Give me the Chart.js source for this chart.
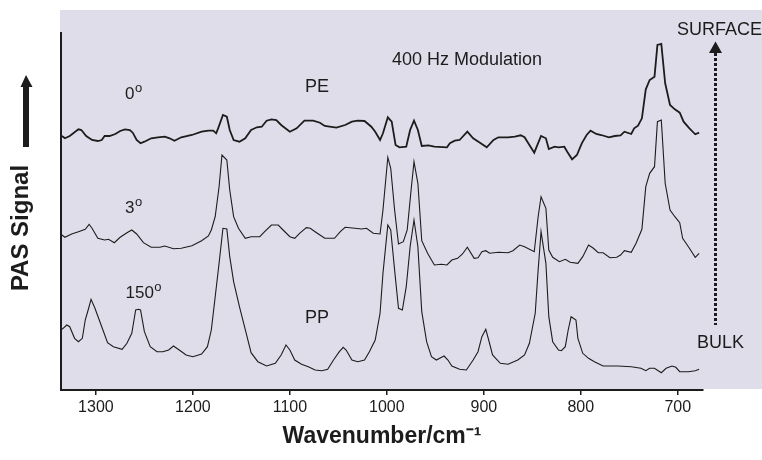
<!DOCTYPE html>
<html>
<head>
<meta charset="utf-8">
<script src="https://cdn.jsdelivr.net/npm/chart.js@4.4.1/dist/chart.umd.min.js"></script>
<style>
  html, body { margin: 0; padding: 0; background: #fff; }
  canvas { display: block; }
</style>
</head>
<body>
<canvas id="chart" width="762" height="460"></canvas>
<script>
// wavenumbers (cm-1) and relative PAS signal
const peWavenumber = [1335,1332,1327,1318,1315,1310,1304,1298,1294,1291,1286,1280,1275,1270,1265,1262,1258,1254,1250,1243,1236,1229,1224,1219,1212,1201,1191,1184,1179,1176,
  1174,1169,1165,1162,1158,1152,1146,1140,1134,1129,1124,1119,1114,1109,1100,1093,1085,1076,1069,1064,1059,1052,1043,1036,1030,1023,1016,1012,1007,
  1004,999,995,991,987,980,976,972,968,964,957,951,938,935,930,925,917,911,904,897,890,885,875,868,862,858,853,848,
  841,836,833,827,823,817,814,809,804,799,794,790,784,779,771,765,759,755,748,745,741,737,733,729,724,721,717,713,708,703,698,694,688,682,678]
const peSignal = [254,251.7,254,260.7,260,254,250,249,250,254,254,256,259,260.7,260,257.3,250,246.7,248.3,251.7,252.7,253.3,251.7,249.3,252.7,255,258.3,259.3,259.3,256.7,
  261.7,275,273.3,260,250,248.3,251.7,260,262.7,263.3,269.3,270.7,270,265,258.3,261.7,269.3,269.3,267.3,264,263.3,262.3,265,268.3,269.3,269,263.3,258.3,250,
  256.7,272.7,268.3,245,242.7,243.3,260,269.3,260,244,244.7,243.3,242.7,246.7,249.3,250,258.3,251.7,247.3,242.7,250,252.7,252.7,253.3,254.7,252.7,245,237.3,
  254,251.7,241,243.3,242.7,243.3,238.3,230.7,235,246.7,255,259.3,256,255,252.7,254,254.7,258.3,256,261.7,264.3,271.7,300.7,310,313.3,345,346,306.7,285,280.7,277.3,268.3,261.7,255.7,257.3]

const s3Wavenumber = [1335,1332,1325,1318,1311,1307,1304,1298,1291,1287,1281,1275,1268,1263,1258,1251,1243,1234,1229,1220,1212,1201,1191,1184,1181,1177,1173,1170,1165,1162,1158,1153,1146,1140,1131,1126,1119,1112,1107,1100,1095,1090,1083,1079,1074,1069,1064,1054,1048,1043,1033,1026,1021,1014,1007,
  1004,999,996,992,988,983,979,975,972,968,964,958,951,944,938,933,927,922,917,910,906,902,898,894,885,875,870,863,858,848,844,841,836,833,829,822,816,811,803,798,792,787,782,777,770,763,759,755,748,743,737,733,729,724,721,717,713,708,703,698,695,688,682,678]
const s3Signal = [155,152.7,156,158.3,160.7,165.7,161.7,151.7,150,150.7,147.3,152.7,157.3,160,156,147.3,142.7,142.7,144,141.3,141.7,144.3,149.3,154,160,173.3,203.3,235,230,200,173.3,161.7,151.7,153.3,153.3,158.3,165,165,160,153.3,151.7,156.7,162.3,161.7,158.3,155,151.7,151.7,158.3,162.7,161.7,161,161.7,156.7,156,
  180,232.7,221.7,180,146,148.3,160,200,228.3,206.7,149.3,136.7,125,125.7,125,130,131.7,136,142.7,131.7,132.3,138.3,139.3,136.7,137.7,137.3,139.3,145,143.3,138.3,173.3,193.3,181.7,140,132.7,128.3,130.7,127.7,126.7,133.3,145,141.7,137.3,137.3,132.3,132.7,135,139.3,137.7,146.7,160.7,203.3,216.7,223.3,268.3,270,206.7,180,173.3,167.3,151.7,141.7,132.7,136.7]

const s150Wavenumber = [1335,1330,1327,1322,1318,1314,1311,1308,1305,1301,1294,1288,1282,1273,1268,1263,1259,1256,1254,1250,1244,1237,1231,1225,1220,1213,1207,1200,1191,1185,1181,1177,1173,1169,1165,1162,1158,1152,1145,1140,1133,1124,1115,1109,1104,1100,1095,1088,1081,1074,1067,1061,1055,1049,1045,1042,1036,1030,1023,1018,1012,1007,
  1004,999,996,992,988,984,980,976,972,968,964,959,954,949,941,937,933,925,918,911,906,902,898,895,891,883,875,865,858,853,847,844,841,836,833,829,823,820,816,813,810,805,803,798,792,786,777,762,748,738,733,729,724,717,712,706,702,698,689,682,678]
const s150Signal = [60.7,65,63.3,51.7,48.3,51.7,70,80,90.7,81.7,63.3,47.3,43.3,40.7,46.7,56.7,80,80.7,80,58.3,43.3,38.3,38.3,40,44,39.3,35,33.3,36,43.3,60,93.3,126.7,161.7,161,133.3,108.3,83.3,56.7,37.3,28.3,24,26.7,35,45,40,30,25.7,23.3,20,19.3,20.7,30,38.3,42.7,40,30,28.3,30,38.3,50,76.7,
  116.7,165,160,120,81.7,80,103.3,143.3,170,143.3,78.3,48.3,33.3,30,34,30,24,20.7,20,30,38.3,53.3,60.7,50,35,26.7,25.7,30,35,46.7,76.7,120,158.3,126.7,73.3,48.3,40,39.3,43.3,60,73.3,70,51.7,36.7,31.7,28.3,24,24,23.3,21.7,19.3,21.7,21.7,17.3,21.7,24,22.7,18.3,18.3,19.3,20.7]

const tickValues = [1300, 1200, 1100, 1000, 900, 800, 700]

const ink = '#1c1c1c'
const lavender = '#dfdde9'

function toPoints(xs, ys) {
  return xs.map((x, i) => ({ x: x, y: ys[i] }))
}

// background panel, arrows and the text labels inside the plot
const decorations = {
  id: 'decorations',
  beforeDraw(chart) {
    const ctx = chart.ctx
    ctx.save()
    ctx.fillStyle = '#ffffff'
    ctx.fillRect(0, 0, chart.width, chart.height)
    ctx.fillStyle = lavender
    ctx.fillRect(60, 10, 702, 379)
    ctx.restore()
  },
  afterDraw(chart) {
    const ctx = chart.ctx
    ctx.save()
    ctx.fillStyle = ink
    ctx.textBaseline = 'alphabetic'
    ctx.textAlign = 'left'

    ctx.font = '18px "Liberation Sans", Arial, sans-serif'
    ctx.fillText('400 Hz Modulation', 392, 65)
    ctx.fillText('PE', 305, 92)
    ctx.fillText('PP', 305, 323)
    ctx.fillText('SURFACE', 677, 35)
    ctx.fillText('BULK', 697, 348)

    // angle labels with a small raised "o"
    const angles = [['0', 125, 99], ['3', 125, 213], ['150', 125.5, 298]]
    angles.forEach(a => {
      ctx.font = '17px "Liberation Sans", Arial, sans-serif'
      ctx.fillText(a[0], a[1], a[2])
      const w = ctx.measureText(a[0]).width
      ctx.font = '13px "Liberation Sans", Arial, sans-serif'
      ctx.fillText('o', a[1] + w + 0.5, a[2] - 7)
    })

    // dotted SURFACE/BULK arrow
    ctx.strokeStyle = ink
    ctx.lineWidth = 3
    ctx.setLineDash([3, 2])
    ctx.beginPath()
    ctx.moveTo(715.5, 53)
    ctx.lineTo(715.5, 325)
    ctx.stroke()
    ctx.setLineDash([])
    ctx.beginPath()
    ctx.moveTo(709, 53)
    ctx.lineTo(722, 53)
    ctx.lineTo(715.5, 41.5)
    ctx.closePath()
    ctx.fill()

    // solid arrow next to the y title
    ctx.fillRect(23, 86, 6, 61)
    ctx.beginPath()
    ctx.moveTo(20.5, 87)
    ctx.lineTo(32.5, 87)
    ctx.lineTo(26, 75)
    ctx.closePath()
    ctx.fill()

    // y title
    ctx.translate(21, 228)
    ctx.rotate(-Math.PI / 2)
    ctx.textAlign = 'center'
    ctx.textBaseline = 'middle'
    ctx.font = 'bold 24px "Liberation Sans", Arial, sans-serif'
    ctx.fillText('PAS Signal', 0, 0)
    ctx.restore()
  }
}

const ctx = document.getElementById('chart').getContext('2d')
new Chart(ctx, {
  type: 'line',
  data: {
    datasets: [
      { label: '0°', data: toPoints(peWavenumber, peSignal), borderColor: ink, borderWidth: 1.8 },
      { label: '3°', data: toPoints(s3Wavenumber, s3Signal), borderColor: ink, borderWidth: 1.1 },
      { label: '150°', data: toPoints(s150Wavenumber, s150Signal), borderColor: ink, borderWidth: 1.1 }
    ]
  },
  options: {
    responsive: false,
    animation: false,
    devicePixelRatio: 1,
    layout: { padding: { left: 61, right: 59, top: 33, bottom: 0 } },
    elements: {
      point: { radius: 0 },
      line: { tension: 0, fill: false }
    },
    plugins: {
      legend: { display: false },
      tooltip: { enabled: false }
    },
    scales: {
      x: {
        type: 'linear',
        reverse: true,
        min: 674,
        max: 1336,
        afterBuildTicks: scale => { scale.ticks = tickValues.map(v => ({ value: v })) },
        afterFit: scale => { scale.height = 70 },
        grid: { display: true, drawOnChartArea: false, drawTicks: true, tickLength: 5, color: ink, lineWidth: 1.5 },
        border: { display: true, color: ink, width: 2 },
        ticks: {
          color: ink,
          padding: 3,
          maxRotation: 0,
          autoSkip: false,
          callback: v => String(v),
          font: { family: '"Liberation Sans", Arial, sans-serif', size: 16 }
        },
        title: {
          display: true,
          text: 'Wavenumber/cm⁻¹',
          color: ink,
          padding: { top: 0, bottom: 10 },
          font: { family: '"Liberation Sans", Arial, sans-serif', size: 23, weight: 'bold' }
        }
      },
      y: {
        min: 0,
        max: 357,
        afterFit: scale => { scale.width = 0 },
        grid: { display: false },
        border: { display: true, color: ink, width: 2 },
        ticks: { display: false }
      }
    }
  },
  plugins: [decorations]
})
</script>
</body>
</html>
